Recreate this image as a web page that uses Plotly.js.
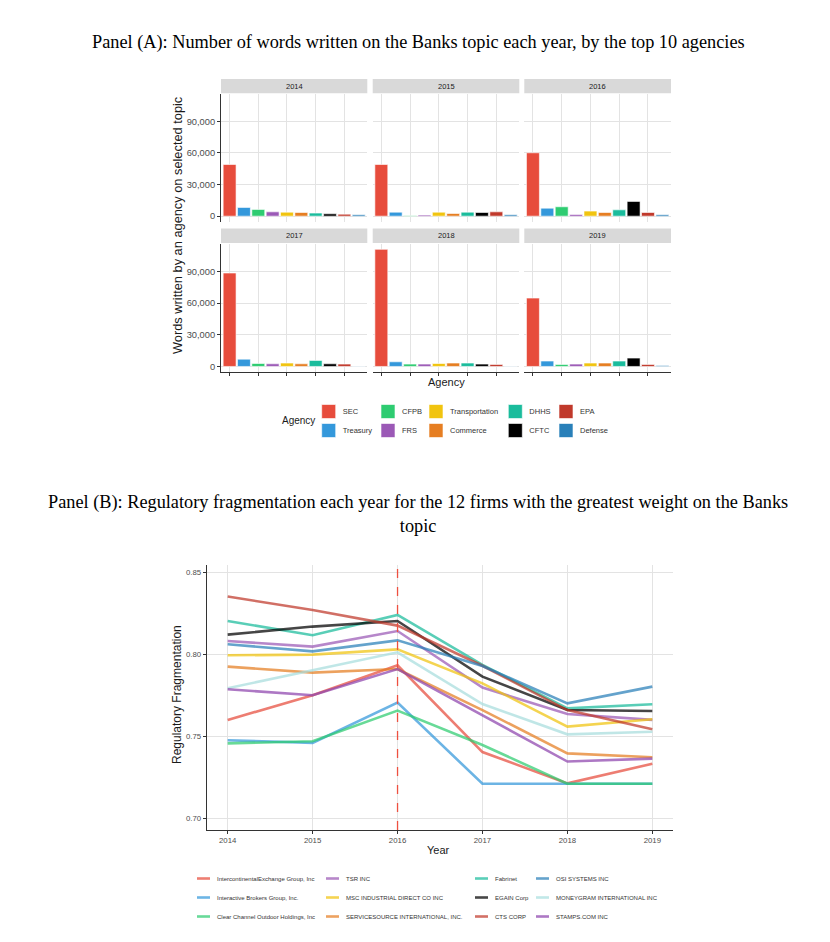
<!DOCTYPE html>
<html><head><meta charset="utf-8">
<script src="https://cdn.plot.ly/plotly-3.0.1.min.js"></script>
<style>html,body{margin:0;padding:0;background:#fff}#chart{width:830px;height:942px}</style>
</head><body><div id="chart"></div>
<script>
// ---------- Panel A data ----------
const years = ['2014', '2015', '2016', '2017', '2018', '2019'];
const agencies = ['SEC', 'Treasury', 'CFPB', 'FRS', 'Transportation', 'Commerce', 'DHHS', 'CFTC', 'EPA', 'Defense'];
const agencyColors = ['#E74C3C', '#3498DB', '#2ECC71', '#9B59B6', '#F1C40F', '#E67E22', '#1ABC9C', '#000000', '#C0392B', '#2980B9'];
const words2014 = [49000, 8300, 6400, 4100, 3800, 3500, 2900, 2200, 1900, 1300];
const words2015 = [49000, 3800, 300, 1000, 3800, 2500, 3800, 3500, 4100, 1300];
const words2016 = [60100, 7600, 8900, 1600, 4800, 3500, 6000, 14000, 3500, 1300];
const words2017 = [88400, 6900, 2800, 2500, 3200, 2500, 5700, 2500, 2200, 300];
const words2018 = [110800, 4400, 2200, 2200, 2800, 3200, 3200, 2200, 1900, 300];
const words2019 = [64700, 5100, 1900, 2200, 3200, 3200, 5100, 7900, 1900, 900];
const wordTicks = [0, 30000, 60000, 90000];

// ---------- Panel B data ----------
const fragYears = [2014, 2015, 2016, 2017, 2018, 2019];
const policyYear = 2016;
const firms = ['IntercontinentalExchange Group, Inc', 'Interactive Brokers Group, Inc.', 'Clear Channel Outdoor Holdings, Inc',
  'TSR INC', 'MSC INDUSTRIAL DIRECT CO INC', 'SERVICESOURCE INTERNATIONAL, INC.',
  'Fabrinet', 'EGAIN Corp', 'CTS CORP',
  'OSI SYSTEMS INC', 'MONEYGRAM INTERNATIONAL INC', 'STAMPS.COM INC'];
const firmColors = ['#E74C3C', '#3498DB', '#2ECC71', '#9B59B6', '#F1C40F', '#E67E22', '#1ABC9C', '#000000', '#C0392B', '#2980B9', '#A9DFDF', '#8E44AD'];
const fragICE        = [0.760, 0.775, 0.7933, 0.7404, 0.7213, 0.7333];
const fragIBKR       = [0.7476, 0.746, 0.7705, 0.7211, 0.7211, 0.7211];
const fragClearCh    = [0.7457, 0.747, 0.7657, 0.7447, 0.7211, 0.7211];
const fragTSR        = [0.8081, 0.8047, 0.8142, 0.7797, 0.7636, 0.760];
const fragMSC        = [0.7994, 0.7998, 0.803, 0.7823, 0.7559, 0.7604];
const fragServiceSrc = [0.7925, 0.7888, 0.791, 0.766, 0.7396, 0.7372];
const fragFabrinet   = [0.8203, 0.8116, 0.824, 0.7935, 0.767, 0.7695];
const fragEGAIN      = [0.812, 0.8169, 0.8203, 0.7864, 0.766, 0.7654];
const fragCTS        = [0.8352, 0.827, 0.8175, 0.793, 0.766, 0.7543];
const fragOSI        = [0.8061, 0.8018, 0.8085, 0.7929, 0.7701, 0.7803];
const fragMoneygram  = [0.7793, 0.7904, 0.8012, 0.7697, 0.7512, 0.7528];
const fragStamps     = [0.7787, 0.775, 0.791, 0.763, 0.7346, 0.7364];
const fragTicks = [0.70, 0.75, 0.80, 0.85];

// ---------- helpers ----------
const W = 830, H = 942;
const F = 'Liberation Sans, Arial, sans-serif';
const SERIF = 'Liberation Serif, Times New Roman, serif';
const px = v => v / W;
const py = v => 1 - v / H;
const GRID = '#e3e3e3', AXIS = '#333333', TICKC = '#4d4d4d';

const wordsByYear = [words2014, words2015, words2016, words2017, words2018, words2019];
const fragSeries = [fragICE, fragIBKR, fragClearCh, fragTSR, fragMSC, fragServiceSrc, fragFabrinet, fragEGAIN, fragCTS, fragOSI, fragMoneygram, fragStamps];
const legendIds = ['legend', 'legend2', 'legend3', 'legend4', 'legend5', 'legend6', 'legend7', 'legend8', 'legend9'];

const colDom = [[221, 367.3], [372.7, 519.3], [524.3, 671]];
const rowDom = [[93.5, 222], [243.5, 372.3]];
const stripY = [[79, 93.3], [228.5, 243]];

const traces = [];
years.forEach((yr, i) => {
  const ax = i === 0 ? '' : String(i + 1);
  agencies.forEach((ag, j) => {
    traces.push({
      type: 'bar', x: [ag], y: [wordsByYear[i][j]], xaxis: 'x' + ax, yaxis: 'y' + ax,
      width: 0.9, name: ag, legendgroup: ag, showlegend: i === 0, legend: legendIds[Math.floor(j / 2)],
      marker: {color: agencyColors[j], line: {color: '#ffffff', width: 0.6}},
      hovertemplate: yr + ' %{x}: %{y:,}<extra></extra>'
    });
  });
});
fragSeries.forEach((vals, k) => {
  traces.push({
    type: 'scatter', mode: 'lines', x: fragYears, y: vals, xaxis: 'x7', yaxis: 'y7',
    name: firms[k], legendgroup: firms[k], legend: legendIds[5 + Math.floor(k / 3)],
    line: {color: firmColors[k], width: 2.6}, opacity: 0.72
  });
});

const layout = {
  width: W, height: H, margin: {l: 0, r: 0, t: 0, b: 0},
  paper_bgcolor: '#ffffff', plot_bgcolor: '#ffffff', barmode: 'overlay', showlegend: true,
  font: {family: F, color: '#333'},
  shapes: [], annotations: []
};

years.forEach((yr, i) => {
  const col = i % 3, row = Math.floor(i / 3);
  const sx = i === 0 ? '' : String(i + 1);
  layout['xaxis' + sx] = {
    domain: [px(colDom[col][0]), px(colDom[col][1])], anchor: 'y' + sx,
    type: 'category', categoryorder: 'array', categoryarray: agencies, range: [-0.6, 9.6],
    showgrid: true, gridcolor: GRID, gridwidth: 1, zeroline: false,
    showticklabels: false, ticks: row === 1 ? 'outside' : '', ticklen: 3, tickcolor: AXIS,
    showline: row === 1, linecolor: AXIS, linewidth: 1, fixedrange: true
  };
  layout['yaxis' + sx] = {
    domain: [py(rowDom[row][1]), py(rowDom[row][0])], anchor: 'x' + sx,
    range: [-5540, 116340], tickvals: wordTicks, tickformat: ',d',
    showgrid: true, gridcolor: GRID, gridwidth: 1, zeroline: false,
    showticklabels: col === 0, ticks: col === 0 ? 'outside' : '', ticklen: 3, tickcolor: AXIS,
    tickfont: {family: F, size: 9.3, color: TICKC},
    showline: col === 0, linecolor: AXIS, linewidth: 1, fixedrange: true
  };
  layout.shapes.push({type: 'rect', xref: 'paper', yref: 'paper', layer: 'below',
    x0: px(colDom[col][0]), x1: px(colDom[col][1]), y0: py(stripY[row][1]), y1: py(stripY[row][0]),
    fillcolor: '#d9d9d9', line: {width: 0}});
  layout.annotations.push({xref: 'paper', yref: 'paper', x: px((colDom[col][0] + colDom[col][1]) / 2),
    y: py((stripY[row][0] + stripY[row][1]) / 2), text: yr, showarrow: false,
    font: {family: F, size: 7.5, color: '#1a1a1a'}, xanchor: 'center', yanchor: 'middle'});
});

layout.xaxis7 = {
  domain: [px(206.7), px(673.3)], anchor: 'y7', range: [2013.753, 2019.247],
  tickvals: fragYears, ticktext: fragYears.map(String),
  showgrid: true, gridcolor: GRID, gridwidth: 1, zeroline: false,
  ticks: 'outside', ticklen: 3, tickcolor: AXIS, tickfont: {family: F, size: 7.8, color: TICKC},
  showline: true, linecolor: AXIS, linewidth: 1, fixedrange: true
};
layout.yaxis7 = {
  domain: [py(830), py(565)], anchor: 'x7', range: [0.69287, 0.85445],
  tickvals: fragTicks, tickformat: '.2f',
  showgrid: true, gridcolor: GRID, gridwidth: 1, zeroline: false,
  ticks: 'outside', ticklen: 3, tickcolor: AXIS, tickfont: {family: F, size: 7.8, color: TICKC},
  showline: true, linecolor: AXIS, linewidth: 1, fixedrange: true
};
layout.shapes.push({type: 'line', xref: 'x7', yref: 'y7 domain', layer: 'above', x0: policyYear, x1: policyYear, y0: 0, y1: 1,
  line: {color: 'rgb(238,80,64)', width: 1.3, dash: 'dash'}});

// legends
function legendCfg(textX, topY, size) {
  return {x: px(textX - 40), xanchor: 'left', y: py(topY), yanchor: 'top', orientation: 'v',
    bgcolor: 'rgba(0,0,0,0)', borderwidth: 0, tracegroupgap: 0, itemwidth: 30, traceorder: 'grouped',
    font: {family: F, size: size, color: '#333'}};
}
const legATextX = [342.7, 402, 450, 529.3, 580];
const legBTextX = [217, 346, 495, 556];
legATextX.forEach((x, i) => { layout[legendIds[i]] = legendCfg(x, 397, 7.5); });
legBTextX.forEach((x, i) => { layout[legendIds[5 + i]] = legendCfg(x, 864, 6); });

// titles & texts
const ann = (x, y, text, size, opts) => Object.assign({xref: 'paper', yref: 'paper', x: px(x), y: py(y), text: text,
  showarrow: false, xanchor: 'center', yanchor: 'middle', font: {family: F, size: size, color: '#1a1a1a'}}, opts || {});
layout.annotations.push(
  ann(418, 43, 'Panel (A): Number of words written on the Banks topic each year, by the top 10 agencies', 18.3,
    {font: {family: SERIF, size: 18.3, color: '#000'}}),
  ann(177, 225, 'Words written by an agency on selected topic', 12.8, {textangle: -90}),
  ann(446, 382, 'Agency', 11),
  ann(298, 420, 'Agency', 10),
  ann(418, 514, 'Panel (B): Regulatory fragmentation each year for the 12 firms with the greatest weight on the Banks<br>topic', 18.3,
    {font: {family: SERIF, size: 18.3, color: '#000'}}),
  ann(177, 695, 'Regulatory Fragmentation', 12, {textangle: -90}),
  ann(438, 850, 'Year', 11)
);

// compact legend keys (ggplot-style short swatches)
function compactLegendKeys(gd) {
  gd.querySelectorAll('.legendlines path').forEach(p => p.setAttribute('d', 'M20,0h13'));
  gd.querySelectorAll('.legendpoints path').forEach(p => {
    const d = p.getAttribute('d') || '';
    if (d.indexOf('M6,6H-6V-6H6Z') === 0 || p.dataset.compact === '1') {
      p.dataset.compact = '1';
      p.setAttribute('d', 'M7,7H-7V-7H7Z');
      p.setAttribute('transform', 'translate(26,0)');
    }
  });
}
Plotly.newPlot('chart', traces, layout, {displayModeBar: false}).then(gd => {
  compactLegendKeys(gd);
  gd.on('plotly_afterplot', () => compactLegendKeys(gd));
});
</script>
</body></html>
